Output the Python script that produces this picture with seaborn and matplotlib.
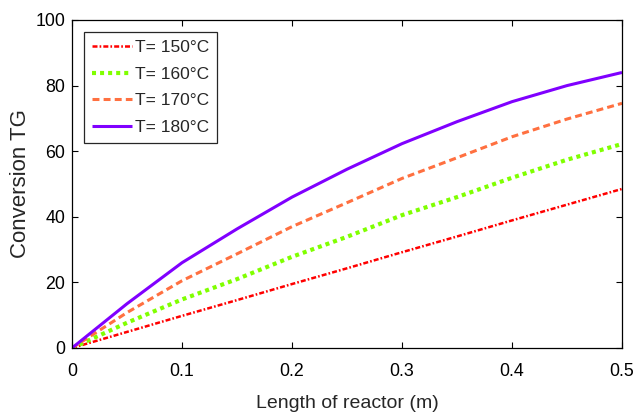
import numpy as np
import pandas as pd
import matplotlib
matplotlib.use("Agg")
import matplotlib.pyplot as plt
import seaborn as sns

# ---- data ----
length_m = [0.0, 0.05, 0.10, 0.15, 0.20, 0.25, 0.30, 0.35, 0.40, 0.45, 0.50]
conv_150 = [0.0, 4.9, 9.8, 14.6, 19.5, 24.3, 29.2, 34.0, 38.9, 43.7, 48.5]
conv_160 = [0.0, 7.7, 14.8, 21.0, 27.8, 33.9, 40.5, 46.0, 51.9, 57.4, 62.2]
conv_170 = [0.0, 10.8, 20.5, 28.7, 37.0, 44.3, 51.7, 58.0, 64.4, 69.8, 74.6]
conv_180 = [0.0, 13.5, 26.0, 36.3, 46.0, 54.5, 62.3, 69.0, 75.1, 80.0, 84.0]
series_labels = ["T= 150°C", "T= 160°C", "T= 170°C", "T= 180°C"]
x_ticks = [0, 0.1, 0.2, 0.3, 0.4, 0.5]
x_tick_labels = ["0", "0.1", "0.2", "0.3", "0.4", "0.5"]
y_ticks = [0, 20, 40, 60, 80, 100]
x_label = "Length of reactor (m)"
y_label = "Conversion TG"

frames = []
for lab, vals in zip(series_labels, [conv_150, conv_160, conv_170, conv_180]):
    frames.append(pd.DataFrame({"L": length_m, "X": vals, "T": lab}))
df = pd.concat(frames, ignore_index=True)

sns.set_style("ticks")
plt.rcParams["font.family"] = ["Liberation Sans", "DejaVu Sans"]
plt.rcParams["lines.scale_dashes"] = False
FS = 12.8

fig = plt.figure(figsize=(6.34, 4.12), dpi=100)
ax = fig.add_axes([72 / 634, 1 - 348 / 412, 550 / 634, 328 / 412])

styles = {
    "T= 150°C": dict(color="#FF0000", lw=1.8, ls=(0, (3.6, 1.5, 1.2, 1.5))),
    "T= 160°C": dict(color="#80FF00", lw=3.0, ls=(0, (2.9, 2.9))),
    "T= 170°C": dict(color="#FF7040", lw=2.2, ls=(0, (5.0, 3.0))),
    "T= 180°C": dict(color="#8000FF", lw=2.2, ls="-"),
}
for lab in series_labels:
    st = styles[lab]
    sns.lineplot(data=df[df["T"] == lab], x="L", y="X", ax=ax, label=lab,
                 color=st["color"], linewidth=st["lw"], linestyle=st["ls"],
                 dash_capstyle="butt", solid_capstyle="butt")

ax.set_xlim(0, 0.5)
ax.set_ylim(0, 100)
ax.set_xticks(x_ticks)
ax.set_xticklabels(x_tick_labels)
ax.set_yticks(y_ticks)
ax.tick_params(axis="both", direction="in", top=True, right=True, length=4,
               width=0.8, colors="black", labelsize=FS)
ax.tick_params(axis="x", pad=10.5)
ax.tick_params(axis="y", pad=5)
for sp in ax.spines.values():
    sp.set_visible(True)
    sp.set_color("black")
    sp.set_linewidth(0.9)

ax.set_xlabel(x_label, fontsize=14, labelpad=11)
ax.set_ylabel(y_label, fontsize=16, labelpad=3)

leg = ax.legend(loc="upper left", bbox_to_anchor=(12 / 550, 1 - 12 / 328),
                borderaxespad=0, fontsize=12.5, frameon=True, fancybox=False,
                handlelength=2.3, handletextpad=0.2, labelspacing=0.66,
                borderpad=0.45)
leg.get_frame().set_edgecolor("#262626")
leg.get_frame().set_linewidth(0.9)
leg.get_frame().set_alpha(1)

fig.savefig("out.png", dpi=100)
